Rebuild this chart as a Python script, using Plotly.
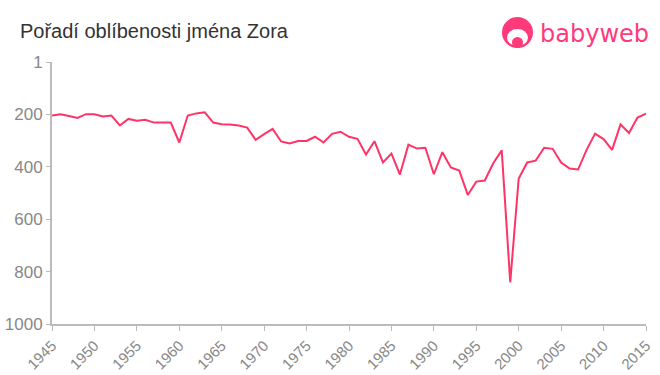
import plotly.graph_objects as go

years = list(range(1945, 2016))
ranks = [205, 200, 207, 214, 200, 200, 209, 205, 243, 218,
         225, 221, 232, 232, 232, 308, 205, 197, 193, 232,
         238, 239, 243, 251, 298, 276, 256, 304, 312, 302,
         302, 286, 308, 275, 267, 286, 294, 354, 303, 384,
         350, 430, 316, 331, 328, 429, 345, 403, 415, 508,
         457, 453, 387, 338, 841, 445, 384, 377, 328, 332,
         384, 407, 411, 336, 274, 295, 336, 239, 272, 213,
         198]
y_ticks = [1, 200, 400, 600, 800, 1000]
x_ticks = list(range(1945, 2016, 5))

title_text = "Pořadí oblíbenosti jména Zora"
logo_text = "babyweb"

pink = "#ff3366"
logo_pink = "#ff3a7a"
axis_col = "#bbbbbb"
tick_col = "#888888"

L, R, T, B = 52, 646, 62, 324
W, H = R - L, B - T


def px(x):
    return (x - L) / W


def py(y):
    return (B - y) / H


fig = go.Figure()
fig.add_trace(go.Scatter(x=years, y=ranks, mode="lines",
                         line=dict(color=pink, width=2), hoverinfo="x+y"))

fig.update_layout(
    width=660, height=375,
    margin=dict(l=L, r=660 - R, t=T, b=375 - B),
    paper_bgcolor="white", plot_bgcolor="white",
    showlegend=False,
    font=dict(family="Liberation Sans, Arial, sans-serif"),
    xaxis=dict(range=[1945, 2015], tickvals=x_ticks, ticktext=[str(v) for v in x_ticks],
               tickangle=-45, showgrid=False, zeroline=False, automargin=False,
               showline=True, linecolor=axis_col, linewidth=2,
               ticks="outside", ticklen=5, tickcolor=axis_col, tickwidth=1,
               tickfont=dict(size=15, color=tick_col)),
    yaxis=dict(range=[1000, 1], tickvals=y_ticks, ticktext=[str(v) for v in y_ticks],
               showgrid=False, zeroline=False, automargin=False,
               showline=True, linecolor=axis_col, linewidth=2,
               ticks="outside", ticklen=4, tickcolor=axis_col, tickwidth=1,
               tickfont=dict(size=17, color=tick_col)),
    annotations=[
        dict(text=title_text, xref="paper", yref="paper", x=px(18), y=py(31),
             xanchor="left", yanchor="middle", showarrow=False,
             font=dict(size=20, color="#333333")),
        dict(text=logo_text, xref="paper", yref="paper", x=px(538), y=py(34),
             xanchor="left", yanchor="middle", showarrow=False,
             font=dict(size=24, color=logo_pink, family="DejaVu Sans")),
    ],
    shapes=[
        dict(type="circle", xref="paper", yref="paper",
             x0=px(502), x1=px(533), y0=py(48), y1=py(17),
             fillcolor=logo_pink, line=dict(width=0)),
        dict(type="circle", xref="paper", yref="paper",
             x0=px(507), x1=px(528), y0=py(46), y1=py(29),
             fillcolor="white", line=dict(width=0)),
        dict(type="circle", xref="paper", yref="paper",
             x0=px(512), x1=px(523), y0=py(48), y1=py(37),
             fillcolor=logo_pink, line=dict(width=0)),
    ],
)

fig.write_html("out.html")
